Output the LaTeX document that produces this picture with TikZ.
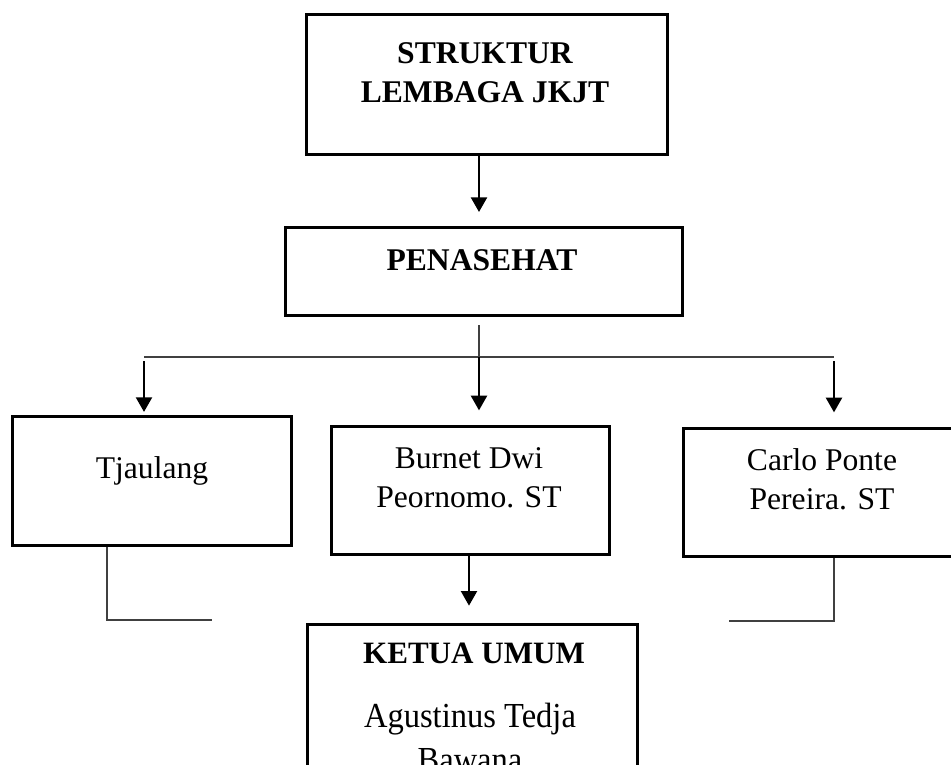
\documentclass[tikz,border=0pt]{standalone}
\usepackage{fontspec}
\setmainfont{Liberation Serif}
\usetikzlibrary{arrows.meta}
\tikzset{
  box/.style={draw=black, line width=1.9pt, rectangle, inner sep=0pt, anchor=north west},
  arr/.style={draw=black, line width=1.7pt, -{Triangle[length=11pt,width=12pt]}},
  thinline/.style={draw=black!75, line width=0.9pt},
  hd/.style={font=\fontsize{23.7}{29}\selectfont\bfseries, anchor=base, inner sep=0pt},
  nm/.style={font=\fontsize{23.7}{29}\selectfont, anchor=base, inner sep=0pt}
}
\begin{document}
\begin{tikzpicture}[x=0.75pt,y=-0.75pt]
\useasboundingbox (0,0) rectangle (951,765);
\clip (0,0) rectangle (951,765);
% boxes
\node[box, minimum width=361*0.75pt, minimum height=140*0.75pt] (top) at (305,13) {};
\node[box, minimum width=397*0.75pt, minimum height=88*0.75pt] (pen) at (284,226) {};
\node[box, minimum width=279*0.75pt, minimum height=129*0.75pt] (tja) at (11,415) {};
\node[box, minimum width=278*0.75pt, minimum height=128*0.75pt] (bur) at (330,425) {};
\node[box, minimum width=275*0.75pt, minimum height=128*0.75pt] (car) at (682,427) {};
\node[box, minimum width=330*0.75pt, minimum height=200*0.75pt] (ket) at (306,623) {};
% texts
\node[hd] (t1) at (485,63) {STRUKTUR};
\node[hd] (t2) at (485,102) {LEMBAGA JKJT};
\node[hd] (t3) at (482,270) {PENASEHAT};
\node[nm] (t4) at (152,478) {Tjaulang};
\node[nm] (t5) at (469,468) {Burnet Dwi};
\node[nm] (t6) at (469,507) {Peornomo. ST};
\node[nm] (t7) at (822,470) {Carlo Ponte};
\node[nm] (t8) at (822,509) {Pereira. ST};
\node[hd, font=\fontsize{23.3}{29}\selectfont\bfseries] (t9) at (474,663) {KETUA UMUM};
\node[nm, font=\fontsize{24.4}{29}\selectfont] (t10) at (470,727) {\scalebox{1}[1.08]{Agustinus Tedja}};
\node[nm, font=\fontsize{24.4}{29}\selectfont] (t11) at (470,771) {\scalebox{1}[1.08]{Bawana}};
% connectors
\coordinate (j1) at (479,357);
\coordinate (hl) at (144,357);
\coordinate (hr) at (834,357);
\coordinate (tl1) at (107,620);
\coordinate (tl2) at (212,620);
\coordinate (cr1) at (834,621);
\coordinate (cr2) at (729,621);
\draw[arr, shorten >=10.5pt] (top.south -| j1) -- (pen.north -| j1);
\draw[thinline, shorten <=6.5pt] (pen.south -| j1) -- (j1);
\draw[thinline] (hl) -- (hr);
\draw[arr, shorten <=3pt, shorten >=2.3pt] (hl) -- (tja.north -| hl);
\draw[arr, shorten >=11pt] (j1) -- (bur.north -| j1);
\draw[arr, shorten <=3pt, shorten >=11pt] (hr) -- (car.north -| hr);
\draw[arr, shorten >=13pt] (bur.south -| t5) -- (ket.north -| t5);
\draw[thinline] (tja.south -| tl1) -- (tl1) -- (tl2);
\draw[thinline] (car.south -| cr1) -- (cr1) -- (cr2);
\end{tikzpicture}
\end{document}
